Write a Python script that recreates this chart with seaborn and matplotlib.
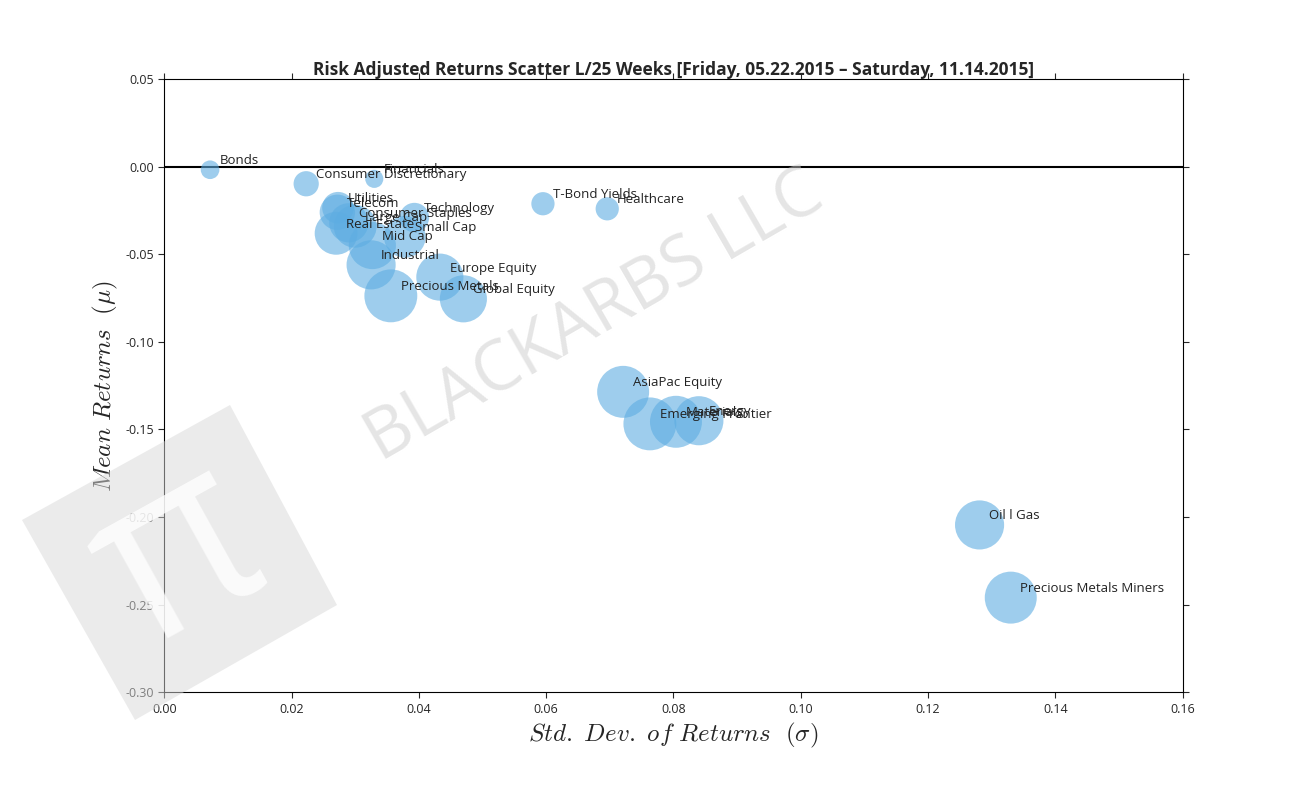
import matplotlib
matplotlib.use("Agg")
import matplotlib.pyplot as plt
import matplotlib.patches as mpatches
import matplotlib.ticker as mticker
import seaborn as sns
import pandas as pd

# Datos
names = ["Bonds", "Consumer Discretionary", "Financials", "Utilities", "Telecom",
         "Consumer Staples", "Large Cap", "Real Estate", "Small Cap", "Mid Cap",
         "Industrial", "Technology", "Precious Metals", "Europe Equity", "Global Equity",
         "T-Bond Yields", "Healthcare", "AsiaPac Equity", "Emerging Frontier", "Materials",
         "Energy", "Oil l Gas", "Precious Metals Miners"]
std = [0.0072, 0.0223, 0.0330, 0.0273, 0.0272, 0.0290, 0.0300, 0.0270, 0.0378, 0.0327,
       0.0325, 0.0393, 0.0356, 0.0433, 0.0470, 0.0595, 0.0696, 0.0721, 0.0763, 0.0804,
       0.0840, 0.1281, 0.1330]
mean = [-0.0017, -0.0097, -0.0069, -0.0234, -0.0260, -0.0320, -0.0340, -0.0380, -0.0400,
        -0.0450, -0.0560, -0.0290, -0.0737, -0.0630, -0.0754, -0.0211, -0.0240, -0.1285,
        -0.1468, -0.1456, -0.1450, -0.2045, -0.2460]
sizes = [180, 330, 170, 520, 650, 800, 950, 950, 900, 1150, 1250, 450, 1450, 1150,
         1150, 280, 280, 1400, 1450, 1400, 1250, 1250, 1400]

df = pd.DataFrame({"std": std, "mean": mean, "size": sizes, "name": names})

sns.set_style("white")
plt.rcParams["font.family"] = ["Open Sans", "DejaVu Sans"]
plt.rcParams["mathtext.fontset"] = "cm"

W, H = 1314, 792
fig = plt.figure(figsize=(W / 100, H / 100), dpi=100)

# marca de agua (detras de los ejes)
corners = [(22, 520), (135, 720), (337, 605), (230, 405)]
poly = mpatches.Polygon([(x / W, 1 - y / H) for x, y in corners], closed=True,
                        transform=fig.transFigure, facecolor="#d8d8d8", alpha=0.5,
                        edgecolor="none", zorder=0)
fig.patches.append(poly)
fig.text(180 / W, 1 - 560 / H, "\u03c0", fontsize=170, color="white", alpha=0.8,
         rotation=29, ha="center", va="center", zorder=1)
fig.text(595 / W, 1 - 318 / H, "BLACKARBS LLC", fontsize=50, color="#cccccc", alpha=0.5,
         rotation=30, ha="center", va="center", zorder=1)

ax = fig.add_axes([0.125, 0.126, 0.775, 0.774])
ax.patch.set_alpha(0)

ax.scatter(df["std"], df["mean"], s=df["size"], color="#5dade2", alpha=0.6,
           edgecolors="none", zorder=3)
for x, y, n in zip(df["std"], df["mean"], df["name"]):
    ax.annotate(n, (x, y), xytext=(7, 4), textcoords="offset points",
                fontsize=9.5, color="#222222", zorder=4)

ax.axhline(0, color="black", lw=1.5, zorder=2)
ax.set_xlim(0, 0.16)
ax.set_ylim(-0.30, 0.05)
ax.set_xticks([0, 0.02, 0.04, 0.06, 0.08, 0.10, 0.12, 0.14, 0.16])
ax.set_yticks([0.05, 0, -0.05, -0.10, -0.15, -0.20, -0.25, -0.30])
ax.xaxis.set_major_formatter(mticker.FormatStrFormatter("%.2f"))
ax.yaxis.set_major_formatter(mticker.FormatStrFormatter("%.2f"))
ax.tick_params(labelsize=9, length=4, direction="out", bottom=True, left=True,
               right=True, top=True, labelright=False, labeltop=False)
for s in ax.spines.values():
    s.set_color("black")
    s.set_linewidth(0.8)

ax.set_xlabel(r"$Std.\ Dev.\ of\ Returns\ \ (\sigma)$", fontsize=18)
ax.set_ylabel(r"$Mean\ Returns\ \ (\mu)$", fontsize=18)
ax.set_title("Risk Adjusted Returns Scatter L/25 Weeks [Friday, 05.22.2015 \u2013 Saturday, 11.14.2015]",
             fontsize=12.5, fontweight="bold", pad=3)

fig.savefig("out.png", dpi=100)
